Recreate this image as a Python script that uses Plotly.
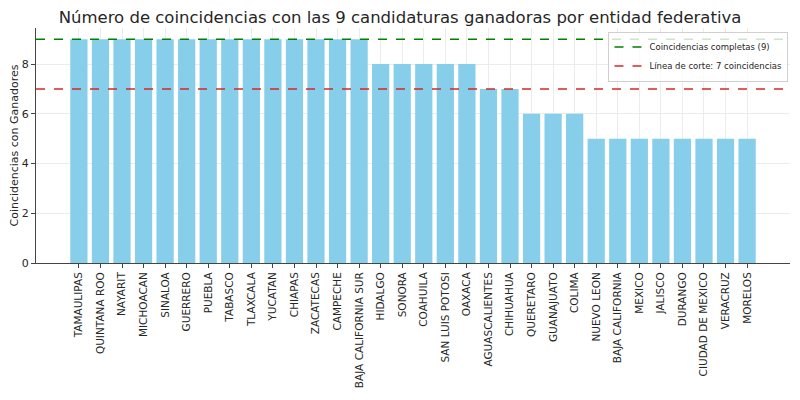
import plotly.graph_objects as go

# Datos: coincidencias por entidad federativa
entidades = [
    "TAMAULIPAS", "QUINTANA ROO", "NAYARIT", "MICHOACAN", "SINALOA", "GUERRERO",
    "PUEBLA", "TABASCO", "TLAXCALA", "YUCATAN", "CHIAPAS", "ZACATECAS", "CAMPECHE",
    "BAJA CALIFORNIA SUR", "HIDALGO", "SONORA", "COAHUILA", "SAN LUIS POTOSI",
    "OAXACA", "AGUASCALIENTES", "CHIHUAHUA", "QUERETARO", "GUANAJUATO", "COLIMA",
    "NUEVO LEON", "BAJA CALIFORNIA", "MEXICO", "JALISCO", "DURANGO",
    "CIUDAD DE MEXICO", "VERACRUZ", "MORELOS",
]
coincidencias = [
    9, 9, 9, 9, 9, 9, 9, 9, 9, 9, 9, 9, 9, 9,
    8, 8, 8, 8, 8,
    7, 7,
    6, 6, 6,
    5, 5, 5, 5, 5, 5, 5, 5,
]
linea_completa = 9
linea_corte = 7

font_family = "DejaVu Sans"
posiciones = list(range(len(entidades)))

fig = go.Figure()

fig.add_trace(go.Bar(
    x=posiciones,
    y=coincidencias,
    width=0.8,
    marker=dict(color="#87CEEB", line=dict(width=0)),
    showlegend=False,
))

# lineas de referencia (shapes a lo ancho del eje) + entradas de leyenda
for valor, color in [(linea_completa, "green"), (linea_corte, "#d62728")]:
    fig.add_shape(type="line", xref="paper", yref="y", x0=0, x1=1, y0=valor, y1=valor,
                  line=dict(color=color, width=1.5, dash="dash"))

fig.add_trace(go.Scatter(x=[None], y=[None], mode="lines",
                         name="Coincidencias completas (9)",
                         line=dict(color="green", width=1.5, dash="dash")))
fig.add_trace(go.Scatter(x=[None], y=[None], mode="lines",
                         name="Línea de corte: 7 coincidencias",
                         line=dict(color="#d62728", width=1.5, dash="dash")))

n = len(entidades)
margen = 0.05 * (n - 1 + 0.8)

# la pagina tiene 8px de margen en el body: figura de 784x384 para que quepa
fig.update_layout(
    width=784, height=384,
    margin=dict(l=28, r=2, t=20, b=129),
    paper_bgcolor="white", plot_bgcolor="white",
    font=dict(family=font_family, color="#262626", size=11),
    title=dict(text="Número de coincidencias con las 9 candidaturas ganadoras por entidad federativa",
               x=0.5, xanchor="center", y=1 - 9.5 / 384, yanchor="middle",
               font=dict(size=16.5, color="#262626")),
    xaxis=dict(
        range=[-0.4 - margen, n - 1 + 0.4 + margen],
        tickmode="array", tickvals=posiciones, ticktext=entidades,
        tickangle=-90, tickfont=dict(size=10.5),
        ticks="outside", ticklen=4, tickcolor="#444",
        showline=True, linecolor="#444", linewidth=1,
        showgrid=True, gridcolor="#ececec", gridwidth=1,
        zeroline=False, automargin=False,
    ),
    yaxis=dict(
        range=[0, 9.45],
        tickvals=[0, 2, 4, 6, 8],
        ticks="outside", ticklen=4, tickcolor="#444",
        showline=True, linecolor="#444", linewidth=1,
        showgrid=True, gridcolor="#ececec", gridwidth=1,
        zeroline=False, automargin=False,
        title=dict(text="Coincidencias con Ganadores", font=dict(size=11), standoff=6),
    ),
    legend=dict(
        x=0.998, y=0.985, xanchor="right", yanchor="top",
        bgcolor="rgba(255,255,255,0.8)", bordercolor="#d0d0d0", borderwidth=1,
        font=dict(size=8.5), tracegroupgap=0, itemwidth=30,
    ),
    bargap=0.2,
)

fig.write_html("out.html")
